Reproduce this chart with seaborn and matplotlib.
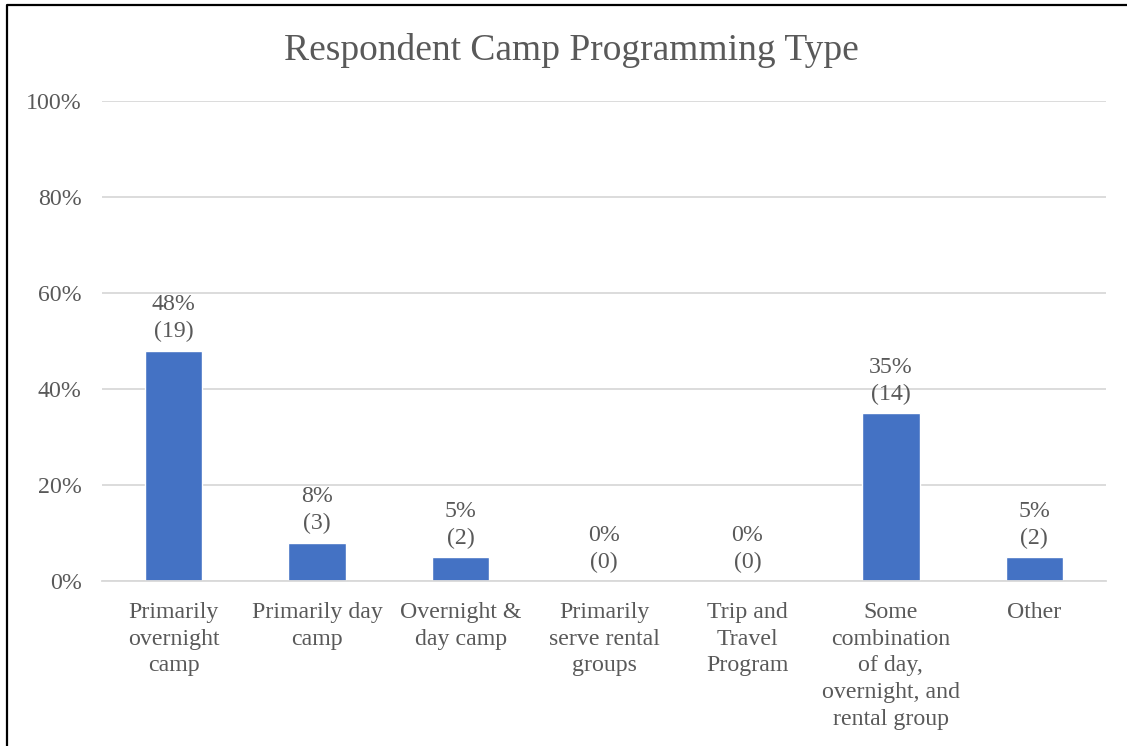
import matplotlib
matplotlib.use("Agg")
import matplotlib.pyplot as plt
from matplotlib.lines import Line2D
import seaborn as sns
import pandas as pd

# data
categories = ["Primarily\novernight\ncamp", "Primarily day\ncamp", "Overnight &\nday camp",
              "Primarily\nserve rental\ngroups", "Trip and\nTravel\nProgram",
              "Some\ncombination\nof day,\novernight, and\nrental group", "Other"]
percents = [48, 8, 5, 0, 0, 35, 5]
counts = [19, 3, 2, 0, 0, 14, 2]

sns.set_style("white")
plt.rcParams["font.family"] = ["Liberation Serif", "DejaVu Serif"]
text_col = "#595959"
fs = 17.2

df = pd.DataFrame({"cat": categories, "pct": percents})

fig = plt.figure(figsize=(11.27, 7.46), dpi=100)
ax = fig.add_axes([0.0905, 0.2212, 0.8909, 0.6434])

sns.barplot(data=df, x="cat", y="pct", color="#4472C4", width=0.4, saturation=1, ax=ax)

labels = [f"{p}%\n({c})" for p, c in zip(percents, counts)]
ax.bar_label(ax.containers[0], labels=labels, padding=6, fontsize=fs,
             color=text_col, linespacing=1.36)

ax.set_ylim(0, 100)
ax.set_yticks(range(0, 101, 20))
ax.set_yticklabels([f"{t}%" for t in range(0, 101, 20)])
ax.set_xlim(-0.5, len(categories) - 0.5)
ax.set_xlabel("")
ax.set_ylabel("")
ax.grid(axis="y", color="#D9D9D9", linewidth=1.3)
ax.set_axisbelow(True)
for s in ["top", "right", "left"]:
    ax.spines[s].set_visible(False)
ax.spines["bottom"].set_color("#D9D9D9")
ax.spines["bottom"].set_linewidth(1.3)
ax.tick_params(axis="both", length=0, labelsize=fs, labelcolor=text_col)
ax.tick_params(axis="y", pad=14.5)
ax.tick_params(axis="x", pad=15)
for lab in ax.get_xticklabels():
    lab.set_linespacing(1.36)

fig.text(0.507, 0.932, "Respondent Camp Programming Type", ha="center", va="center",
         fontsize=27, color=text_col)

# outer frame (left and top edges visible in the crop)
x0 = 7 / 1127
y0 = 1 - 5 / 746
fig.add_artist(Line2D([x0, x0, 1.0], [0.0, y0, y0], transform=fig.transFigure,
                      color="black", linewidth=1.6))

fig.savefig("out.png", dpi=100)
